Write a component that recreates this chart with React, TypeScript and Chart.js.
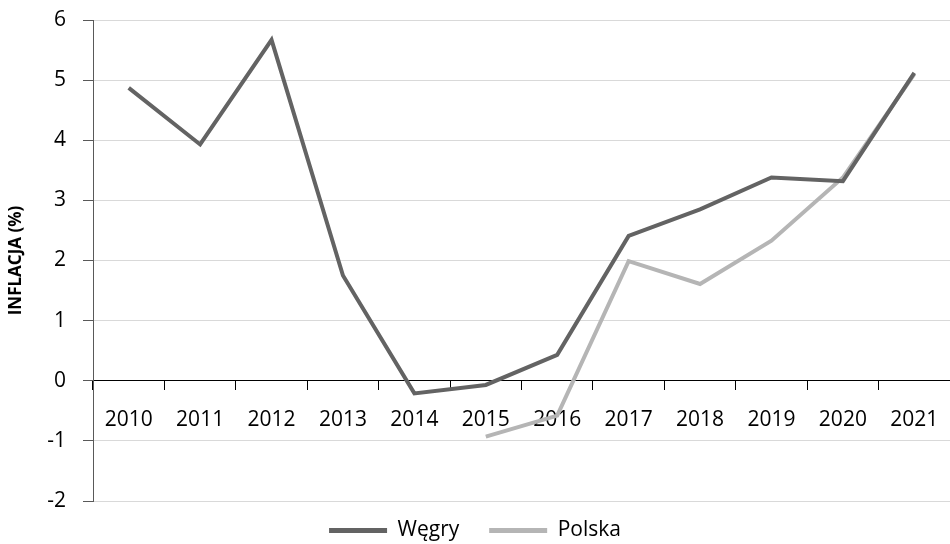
import React, { useEffect, useRef } from "react";
import { Chart, registerables } from "chart.js";

Chart.register(...registerables);

const years = ["2010", "2011", "2012", "2013", "2014", "2015", "2016", "2017", "2018", "2019", "2020", "2021"];
const wegry = [4.87, 3.93, 5.67, 1.75, -0.21, -0.07, 0.43, 2.41, 2.85, 3.38, 3.32, 5.12];
const polska = [null, null, null, null, null, -0.93, -0.58, 1.99, 1.61, 2.33, 3.38, 5.1];
const seriesNames = ["Węgry", "Polska"];

const FONT = "'Open Sans', 'Liberation Sans', sans-serif";

export default function App() {
  const ref = useRef<HTMLCanvasElement>(null);
  useEffect(() => {
    if (!ref.current) return;
    const chart = new Chart(ref.current, {
      type: "line",
      data: {
        labels: years,
        datasets: [
          {
            label: seriesNames[0],
            data: wegry,
            borderColor: "#636363",
            backgroundColor: "#636363",
            borderWidth: 4,
            pointRadius: 0,
            tension: 0,
          },
          {
            label: seriesNames[1],
            data: polska as any,
            borderColor: "#b5b5b5",
            backgroundColor: "#b5b5b5",
            borderWidth: 4,
            pointRadius: 0,
            tension: 0,
            spanGaps: false,
          },
        ],
      },
      options: {
        animation: false,
        responsive: false,
        layout: { autoPadding: false, padding: { top: 20, right: 0, left: 0, bottom: -7 } } as any,
        plugins: {
          tooltip: { enabled: false },
          legend: {
            position: "bottom",
            labels: {
              font: { family: FONT, size: 21 },
              color: "#000",
              boxWidth: 58,
              boxHeight: 5,
              padding: 19,
              generateLabels: (c: any) =>
                c.data.datasets.map((d: any, i: number) => ({
                  text: i === 0 ? d.label + "  " : d.label,
                  fillStyle: d.borderColor,
                  strokeStyle: d.borderColor,
                  lineWidth: 0,
                  hidden: false,
                  datasetIndex: i,
                  fontColor: "#000",
                })),
            },
          },
        },
        scales: {
          x: {
            type: "category",
            position: { y: 0 } as any,
            offset: true,
            grid: {
              display: true,
              drawOnChartArea: false,
              drawTicks: true,
              offset: true,
              tickLength: 9,
              color: "#000",
            },
            border: { display: true, color: "#000", width: 1 },
            ticks: {
              font: { family: FONT, size: 21 },
              color: "#000",
              padding: 18,
              maxRotation: 0,
              autoSkip: false,
            },
            afterFit: (s: any) => {
              s.paddingLeft = 0;
              s.paddingRight = 0;
              s.paddingTop = 0;
              s.paddingBottom = 0;
            },
          },
          y: {
            min: -2,
            max: 6,
            ticks: {
              stepSize: 1,
              font: { family: FONT, size: 21 },
              color: "#000",
              padding: 17,
            },
            grid: { color: "#d9d9d9", tickColor: "#595959", tickLength: 10, lineWidth: 1 },
            border: { display: true, color: "#595959", width: 1 },
            title: {
              display: true,
              text: "INFLACJA (%)",
              font: { family: FONT, size: 17, weight: "bold" },
              color: "#000",
              padding: { top: 6, bottom: 0 },
            },
            afterFit: (s: any) => {
              s.width = 93;
              s.paddingTop = 0;
              s.paddingBottom = 0;
            },
          },
        },
      },
    });
    return () => chart.destroy();
  }, []);
  return (
    <div style={{ position: "fixed", left: 0, top: 0, width: 950, height: 544, background: "#fff" }}>
      <canvas ref={ref} width={950} height={544} style={{ width: 950, height: 544 }} />
    </div>
  );
}
